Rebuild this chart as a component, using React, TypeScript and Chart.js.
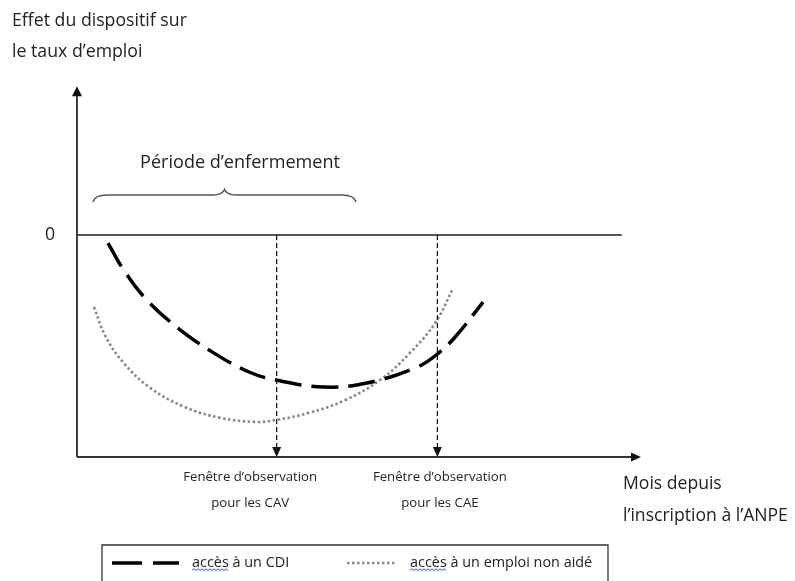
import React, { useEffect, useRef } from "react";
import { Chart, registerables } from "chart.js";

Chart.register(...registerables);

// ---- data (schematic values) ----
const cdiX = [5.5, 8.3, 12.4, 17.9, 24.3, 30.5, 35.3, 43.8, 51.4, 60.3, 64.2, 67.2, 72.0];
const cdiY = [-0.36, -1.58, -2.93, -4.19, -5.32, -6.17, -6.53, -6.85, -6.67, -5.95, -5.3, -4.55, -3.02];
const nonAideX = [3.0, 5.1, 8.3, 12.8, 19.1, 25.5, 31.7, 35.3, 41.3, 47.7, 53.9, 59.0, 63.5, 66.7];
const nonAideY = [-3.24, -4.59, -5.77, -6.85, -7.75, -8.24, -8.42, -8.33, -8.0, -7.42, -6.5, -5.32, -3.96, -2.39];
const seriesLabels = ["accès à un CDI", "accès à un emploi non aidé"];
const observationX = [35.4, 63.9];
const observationLabels = [
  ["Fenêtre d’observation", "pour les CAV"],
  ["Fenêtre d’observation", "pour les CAE"],
];
const lockInPeriod = [2.8, 49.5];
const lockInLabel = "Période d’enfermement";
const yAxisTitle = ["Effet du dispositif sur", "le taux d’emploi"];
const xAxisTitle = ["Mois depuis", "l’inscription à l’ANPE"];
const zeroTick = "0";
const xMin = 0, xMax = 100, yMin = -10, yMax = 6.7;

const FONT = '"Open Sans", "Noto Sans", sans-serif';
const TEXT = "#222";

function fitSize(ctx: CanvasRenderingContext2D, text: string, targetW: number) {
  ctx.font = `100px ${FONT}`;
  const w = ctx.measureText(text).width;
  return (100 * targetW) / w;
}

function drawText(ctx: CanvasRenderingContext2D, text: string, x: number, y: number, size: number, align: CanvasTextAlign) {
  ctx.font = `${size}px ${FONT}`;
  ctx.textAlign = align;
  ctx.textBaseline = "middle";
  ctx.fillStyle = TEXT;
  ctx.fillText(text, x, y);
}

function arrowHead(ctx: CanvasRenderingContext2D, tipX: number, tipY: number, dir: "up" | "down" | "right", len: number, half: number) {
  ctx.beginPath();
  if (dir === "up") {
    ctx.moveTo(tipX, tipY);
    ctx.lineTo(tipX - half, tipY + len);
    ctx.lineTo(tipX + half, tipY + len);
  } else if (dir === "down") {
    ctx.moveTo(tipX, tipY);
    ctx.lineTo(tipX - half, tipY - len);
    ctx.lineTo(tipX + half, tipY - len);
  } else {
    ctx.moveTo(tipX, tipY);
    ctx.lineTo(tipX - len, tipY - half);
    ctx.lineTo(tipX - len, tipY + half);
  }
  ctx.closePath();
  ctx.fill();
}

const schematicPlugin = {
  id: "schematic",
  afterDraw(chart: any) {
    const ctx: CanvasRenderingContext2D = chart.ctx;
    const xs = chart.scales.x;
    const ys = chart.scales.y;
    const X = (v: number) => xs.getPixelForValue(v);
    const Y = (v: number) => ys.getPixelForValue(v);
    const area = chart.chartArea;
    ctx.save();

    // zero line
    ctx.strokeStyle = "#555";
    ctx.lineWidth = 2;
    ctx.setLineDash([]);
    ctx.beginPath();
    ctx.moveTo(X(xMin), Y(0));
    ctx.lineTo(X(96.6), Y(0));
    ctx.stroke();

    // y axis
    ctx.strokeStyle = "#111";
    ctx.fillStyle = "#111";
    ctx.lineWidth = 1.6;
    ctx.beginPath();
    ctx.moveTo(X(xMin), Y(yMin));
    ctx.lineTo(X(xMin), area.top + 8);
    ctx.stroke();
    arrowHead(ctx, X(xMin), area.top, "up", 10, 5);

    // x axis
    ctx.strokeStyle = "#333";
    ctx.lineWidth = 1.8;
    ctx.beginPath();
    ctx.moveTo(X(xMin), Y(yMin));
    ctx.lineTo(X(xMax) - 8, Y(yMin));
    ctx.stroke();
    ctx.fillStyle = "#111";
    arrowHead(ctx, X(xMax), Y(yMin), "right", 10, 4.5);

    // observation windows
    ctx.strokeStyle = "#111";
    ctx.lineWidth = 1.2;
    observationX.forEach((ox) => {
      ctx.setLineDash([5, 3]);
      ctx.beginPath();
      ctx.moveTo(X(ox), Y(0));
      ctx.lineTo(X(ox), Y(yMin) - 9);
      ctx.stroke();
      ctx.setLineDash([]);
      arrowHead(ctx, X(ox), Y(yMin), "down", 10, 4.5);
    });

    // brace
    const bl = X(lockInPeriod[0]);
    const br = X(lockInPeriod[1]);
    const bm = (bl + br) / 2;
    const yb = 195, ye = 202, yt = 189.5;
    ctx.strokeStyle = "#555";
    ctx.lineWidth = 1.5;
    ctx.beginPath();
    ctx.moveTo(bl, ye);
    ctx.quadraticCurveTo(bl + 2, yb, bl + 14, yb);
    ctx.lineTo(bm - 12, yb);
    ctx.quadraticCurveTo(bm - 2, yb, bm, yt);
    ctx.quadraticCurveTo(bm + 2, yb, bm + 12, yb);
    ctx.lineTo(br - 14, yb);
    ctx.quadraticCurveTo(br - 2, yb, br, ye);
    ctx.stroke();

    // texts
    const s1 = fitSize(ctx, yAxisTitle[0], 175);
    drawText(ctx, yAxisTitle[0], 12, 21, s1, "left");
    drawText(ctx, yAxisTitle[1], 12, 52, s1, "left");
    drawText(ctx, zeroTick, 50, Y(0), s1, "center");

    const sP = fitSize(ctx, lockInLabel, 200);
    drawText(ctx, lockInLabel, 240, 163, sP, "center");

    const sF = fitSize(ctx, observationLabels[0][0], 134);
    const centers = [X(observationX[0]) - 26.5, X(observationX[1]) + 2.5];
    observationLabels.forEach((lines, i) => {
      drawText(ctx, lines[0], centers[i], 477, sF, "center");
      drawText(ctx, lines[1], centers[i], 503, sF, "center");
    });

    const sM = fitSize(ctx, xAxisTitle[1], 165);
    drawText(ctx, xAxisTitle[0], 623, 484, sM, "left");
    drawText(ctx, xAxisTitle[1], 623, 516, sM, "left");

    // legend box
    ctx.strokeStyle = "#333";
    ctx.lineWidth = 1.3;
    ctx.beginPath();
    ctx.rect(102, 545, 506, 60);
    ctx.stroke();

    const ly = 563;
    ctx.strokeStyle = "#000";
    ctx.lineWidth = 3.5;
    ctx.setLineDash([30, 11]);
    ctx.beginPath();
    ctx.moveTo(112, ly);
    ctx.lineTo(179, ly);
    ctx.stroke();

    ctx.strokeStyle = "#888";
    ctx.lineWidth = 2.5;
    ctx.setLineDash([2.5, 2.5]);
    ctx.beginPath();
    ctx.moveTo(347, ly);
    ctx.lineTo(396, ly);
    ctx.stroke();
    ctx.setLineDash([]);

    const sL1 = fitSize(ctx, seriesLabels[0], 96);
    const sL2 = fitSize(ctx, seriesLabels[1], 185);
    const sL = (sL1 + sL2) / 2;
    const legendTextX = [192, 410];
    seriesLabels.forEach((lab, i) => {
      drawText(ctx, lab, legendTextX[i], ly, sL, "left");
      // wavy spell-check underline under first word
      ctx.font = `${sL}px ${FONT}`;
      const w = ctx.measureText(lab.split(" ")[0]).width;
      ctx.strokeStyle = "#3a55d8";
      ctx.lineWidth = 1;
      ctx.beginPath();
      let up = true;
      ctx.moveTo(legendTextX[i], 570);
      for (let px = legendTextX[i] + 2; px <= legendTextX[i] + w; px += 2) {
        ctx.lineTo(px, up ? 568.8 : 570.5);
        up = !up;
      }
      ctx.stroke();
    });

    ctx.restore();
  },
};

export default function App() {
  const ref = useRef<HTMLCanvasElement | null>(null);
  useEffect(() => {
    document.body.style.margin = "0";
    if (!ref.current) return;
    const chart = new Chart(ref.current, {
      type: "line",
      data: {
        datasets: [
          {
            label: seriesLabels[0],
            data: cdiX.map((x, i) => ({ x, y: cdiY[i] })),
            borderColor: "#000",
            borderWidth: 3.5,
            borderDash: [27, 10],
            pointRadius: 0,
            tension: 0.4,
            fill: false,
          },
          {
            label: seriesLabels[1],
            data: nonAideX.map((x, i) => ({ x, y: nonAideY[i] })),
            borderColor: "#888",
            borderWidth: 2.6,
            borderDash: [2.5, 2.5],
            pointRadius: 0,
            tension: 0.4,
            fill: false,
          },
        ],
      },
      options: {
        animation: false,
        responsive: false,
        maintainAspectRatio: false,
        layout: { padding: { left: 77, right: 154, top: 86.3, bottom: 124 } },
        plugins: { legend: { display: false }, tooltip: { enabled: false }, title: { display: false } },
        scales: {
          x: { type: "linear", min: xMin, max: xMax, display: false },
          y: { type: "linear", min: yMin, max: yMax, display: false },
        },
      },
      plugins: [schematicPlugin],
    });
    (document as any).fonts?.ready?.then(() => chart.draw());
    return () => chart.destroy();
  }, []);
  return (
    <div style={{ width: 795, height: 581, background: "#fff" }}>
      <canvas ref={ref} width={795} height={581} style={{ display: "block" }} />
    </div>
  );
}
